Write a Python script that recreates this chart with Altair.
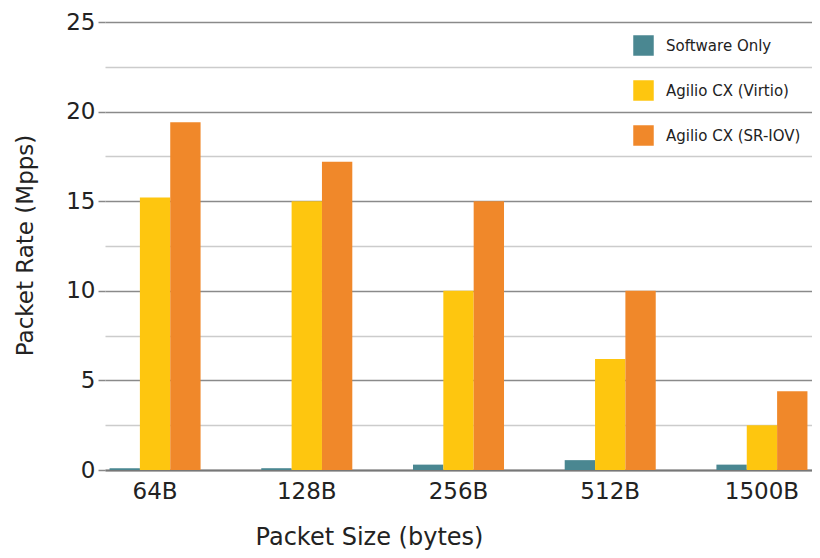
import altair as alt
import pandas as pd

sizes = ["64B", "128B", "256B", "512B", "1500B"]
series = ["Software Only", "Agilio CX (Virtio)", "Agilio CX (SR-IOV)"]
software_only = [0.1, 0.1, 0.3, 0.55, 0.3]
virtio = [15.2, 15.0, 10.0, 6.2, 2.5]
sriov = [19.4, 17.2, 15.0, 10.0, 4.4]
colors = ["#4a8791", "#fec60f", "#f0882a"]
y_ticks = [0, 2.5, 5, 7.5, 10, 12.5, 15, 17.5, 20, 22.5, 25]

rows = []
for name, vals in zip(series, [software_only, virtio, sriov]):
    for s, v in zip(sizes, vals):
        rows.append({"size": s, "series": name, "value": v})
df = pd.DataFrame(rows)

FONT = "DejaVu Sans"
major = "datum.value % 5 === 0"

chart = alt.Chart(df).mark_bar().encode(
    x=alt.X("size:N", sort=sizes,
            scale=alt.Scale(paddingInner=0.4, paddingOuter=0.03),
            axis=alt.Axis(title="Packet Size (bytes)", labelAngle=0, labelFontSize=23,
                          labelColor="#222", labelPadding=10, ticks=False,
                          domainColor="#777", domainWidth=2,
                          titleFontSize=24, titleFontWeight="normal", titleColor="#222",
                          titleX=264, titleY=74, titleBaseline="alphabetic",
                          labelFont=FONT, titleFont=FONT)),
    xOffset=alt.XOffset("series:N", sort=series),
    y=alt.Y("value:Q", scale=alt.Scale(domain=[0, 25], nice=False),
            axis=alt.Axis(title="Packet Rate (Mpps)", values=y_ticks, domain=False,
                          labelExpr="datum.value % 5 === 0 ? datum.label : ''",
                          labelFontSize=23, labelColor="#222", labelPadding=3,
                          tickColor={"condition": {"test": major, "value": "#888"}, "value": "#ccc"},
                          tickSize={"condition": {"test": major, "value": 7}, "value": 0},
                          tickWidth=1.5,
                          gridColor={"condition": {"test": major, "value": "#8a8a8a"}, "value": "#cccccc"},
                          gridWidth=1.5,
                          titleFontSize=23, titleFontWeight="normal", titleColor="#222",
                          titleX=-80, titleY=223, titleBaseline="middle",
                          labelFont=FONT, titleFont=FONT)),
    color=alt.Color("series:N", sort=series,
                    scale=alt.Scale(domain=series, range=colors),
                    legend=alt.Legend(title=None, orient="none", legendX=528, legendY=13,
                                      symbolType="square", symbolSize=420, symbolStrokeWidth=0,
                                      rowPadding=24, labelFontSize=15, labelColor="#222",
                                      labelOffset=12, labelFont=FONT)),
).properties(
    width=707, height=448,
    autosize=alt.AutoSizeParams(type="none"),
    padding={"left": 97, "top": 14, "right": 0, "bottom": 80},
).configure_view(stroke=None)

chart.save("out.html", embed_options={"renderer": "svg", "actions": False})
